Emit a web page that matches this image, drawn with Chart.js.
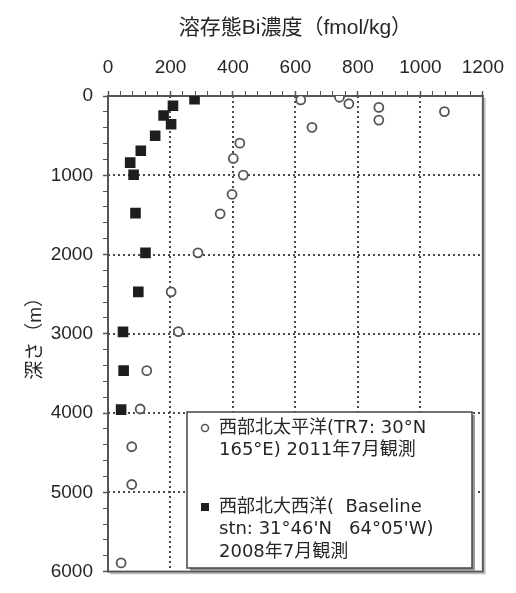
<!DOCTYPE html>
<html>
<head>
<meta charset="utf-8">
<script src="https://cdn.jsdelivr.net/npm/chart.js@4.4.1/dist/chart.umd.min.js"></script>
<style>
  html, body { margin: 0; padding: 0; background: #fff; }
  #wrap { width: 516px; height: 593px; position: relative; }
</style>
</head>
<body>
<div id="wrap"><canvas id="chart"></canvas></div>
<script>
// 溶存態Bi濃度の鉛直分布（太平洋 vs 大西洋）

const FONT = '"Liberation Sans", Arial, "Noto Sans CJK JP", sans-serif';
const LEGEND_FONT = '"DejaVu Sans", "Noto Sans CJK JP", sans-serif';
const INK = "#262626";
const LINE = "#555";

const X_TITLE = "溶存態Bi濃度（fmol/kg）";
const Y_TITLE = "深さ（m）";
const X_TICKS = [0, 200, 400, 600, 800, 1000, 1200];
const Y_TICKS = [0, 1000, 2000, 3000, 4000, 5000, 6000];
const X_MINOR = 40;   // 副目盛り間隔
const Y_MINOR = 200;

// 西部北太平洋 TR7
const PACIFIC_LABEL = "西部北太平洋(TR7: 30°N\n165°E) 2011年7月観測";
const PACIFIC_BI = [741, 617, 771, 867, 1077, 867, 653, 422, 401, 433, 397, 359, 288, 202, 225, 124, 103, 76, 76, 42];
const PACIFIC_DEPTH = [16, 49, 98, 144, 197, 304, 395, 595, 788, 998, 1240, 1486, 1979, 2471, 2972, 3465, 3949, 4425, 4901, 5890];

// 西部北大西洋 Baseline stn
const ATLANTIC_LABEL = "西部北大西洋(  Baseline\nstn: 31°46'N   64°05'W)\n2008年7月観測";
const ATLANTIC_BI = [277, 208, 178, 202, 151, 105, 71, 82, 88, 120, 97, 48, 50, 42];
const ATLANTIC_DEPTH = [40, 123, 246, 357, 501, 690, 841, 993, 1478, 1979, 2471, 2976, 3465, 3957];

const toPoints = (xs, ys) => xs.map((x, i) => ({ x, y: ys[i] }));

// 主目盛り＋副目盛りの tick 列
const stepTicks = (max, step) => {
  const out = [];
  for (let v = 0; v <= max; v += step) out.push({ value: v });
  return out;
};

// 点線グリッド＋枠線（右・下も含めて四辺）
const frame = {
  id: "frame",
  beforeDatasetsDraw(chart) {
    const { ctx, chartArea: a, scales } = chart;
    ctx.save();
    ctx.strokeStyle = "#4a4a4a";
    ctx.lineWidth = 2;
    ctx.setLineDash([2, 3]);
    X_TICKS.slice(1, -1).forEach((v) => {
      const px = Math.round(scales.x.getPixelForValue(v));
      ctx.beginPath();
      ctx.moveTo(px, a.top);
      ctx.lineTo(px, a.bottom);
      ctx.stroke();
    });
    Y_TICKS.slice(1, -1).forEach((v) => {
      const py = Math.round(scales.y.getPixelForValue(v));
      ctx.beginPath();
      ctx.moveTo(a.left, py);
      ctx.lineTo(a.right, py);
      ctx.stroke();
    });
    ctx.setLineDash([]);

    ctx.strokeStyle = "#bbb";
    ctx.lineWidth = 1.5;
    ctx.beginPath();
    ctx.moveTo(a.right + 2, a.top + 2);
    ctx.lineTo(a.right + 2, a.bottom + 2);
    ctx.lineTo(a.left + 2, a.bottom + 2);
    ctx.stroke();
    ctx.strokeStyle = LINE;
    ctx.lineWidth = 2;
    ctx.strokeRect(a.left, a.top, a.right - a.left, a.bottom - a.top);
    ctx.restore();
  },
};

// 図中の凡例ボックス
const boxLegend = {
  id: "boxLegend",
  afterDatasetsDraw(chart, args, o) {
    const { ctx, chartArea: a } = chart;
    const x = a.left + o.left, y = a.top + o.top;
    ctx.save();
    ctx.fillStyle = "#999";
    ctx.fillRect(x + 3, y + 3, o.width, o.height);
    ctx.fillStyle = "#fff";
    ctx.fillRect(x, y, o.width, o.height);
    ctx.strokeStyle = "#444";
    ctx.lineWidth = 1.5;
    ctx.strokeRect(x, y, o.width, o.height);

    ctx.font = `${o.fontSize}px ${LEGEND_FONT}`;
    ctx.textBaseline = "middle";
    let ty = y + o.firstLine;
    chart.data.datasets.forEach((ds) => {
      const mx = x + o.markerX;
      ctx.lineWidth = 1.5;
      if (ds.pointStyle === "rect") {
        ctx.fillStyle = ds.backgroundColor;
        ctx.fillRect(mx - 4, ty - 4, 8, 8);
      } else {
        ctx.strokeStyle = ds.borderColor;
        ctx.beginPath();
        ctx.arc(mx, ty, 3.5, 0, Math.PI * 2);
        ctx.stroke();
      }
      ctx.fillStyle = INK;
      const lines = ds.label.split("\n");
      lines.forEach((ln, j) => ctx.fillText(ln, x + o.textX, ty + j * o.lineHeight));
      ty += lines.length * o.lineHeight + o.gap;
    });
    ctx.restore();
  },
};

const tickFont = { family: FONT, size: 19 };
const isMajor = (list) => (c) => c.tick && list.includes(c.tick.value);

new Chart(document.getElementById("chart"), {
  type: "scatter",
  data: {
    datasets: [
      {
        label: PACIFIC_LABEL,
        data: toPoints(PACIFIC_BI, PACIFIC_DEPTH),
        pointStyle: "circle",
        radius: 4.5,
        borderWidth: 1.8,
        borderColor: "#555",
        backgroundColor: "#fff",
      },
      {
        label: ATLANTIC_LABEL,
        data: toPoints(ATLANTIC_BI, ATLANTIC_DEPTH),
        pointStyle: "rect",
        radius: 7.5,
        borderWidth: 0,
        borderColor: "#1e1e1e",
        backgroundColor: "#1e1e1e",
      },
    ],
  },
  options: {
    responsive: true,
    maintainAspectRatio: false,
    animation: false,
    layout: { padding: { left: 0, top: 0, right: 28, bottom: 10 } },
    plugins: {
      legend: { display: false },
      tooltip: { enabled: false },
      boxLegend: {
        left: 79, top: 316, width: 285, height: 156,
        fontSize: 18, firstLine: 16, lineHeight: 22.5, gap: 34,
        markerX: 18, textX: 32,
      },
    },
    scales: {
      x: {
        type: "linear",
        position: "top",
        min: 0,
        max: 1200,
        afterBuildTicks: (s) => { s.ticks = stepTicks(1200, X_MINOR); },
        afterFit: (s) => { s.height = 96; },
        ticks: {
          font: tickFont, color: INK, padding: 12, maxRotation: 0, autoSkip: false,
          callback: (v) => (X_TICKS.includes(v) ? String(v) : ""),
        },
        title: { display: true, text: X_TITLE, font: { family: FONT, size: 21 }, color: INK, padding: { top: 16, bottom: 0 } },
        grid: {
          drawOnChartArea: false,
          tickColor: LINE,
          tickLength: 5,
          tickWidth: (c) => (isMajor(X_TICKS)(c) ? 1.5 : 1),
        },
        border: { color: LINE, width: 2 },
      },
      y: {
        type: "linear",
        position: "left",
        reverse: true,
        min: 0,
        max: 6000,
        afterBuildTicks: (s) => { s.ticks = stepTicks(6000, Y_MINOR); },
        afterFit: (s) => { s.width = 108; },
        ticks: {
          font: tickFont, color: INK, padding: 10, autoSkip: false,
          callback: (v) => (Y_TICKS.includes(v) ? String(v) : ""),
        },
        title: { display: true, text: Y_TITLE, font: { family: FONT, size: 19 }, color: INK, padding: { top: 24, bottom: 0 } },
        grid: {
          drawOnChartArea: false,
          tickColor: LINE,
          tickLength: 5,
          tickWidth: (c) => (isMajor(Y_TICKS)(c) ? 1.5 : 1),
        },
        border: { color: LINE, width: 2 },
      },
    },
  },
  plugins: [frame, boxLegend],
});
</script>
</body>
</html>
